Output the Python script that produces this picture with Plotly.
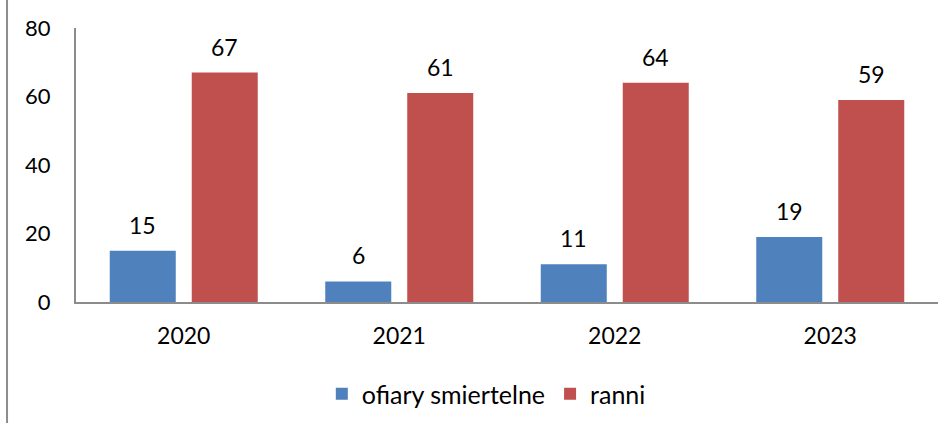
import plotly.graph_objects as go

years = ["2020", "2021", "2022", "2023"]
deaths = [15, 6, 11, 19]
injured = [67, 61, 64, 59]
series_names = ["ofiary smiertelne", "ranni"]
colors = ["#4F81BD", "#C0504D"]
y_ticks = [0, 20, 40, 60, 80]

FONT = "Lato"

fig = go.Figure()
for name, vals, col in zip(series_names, [deaths, injured], colors):
    fig.add_trace(go.Bar(x=years, y=vals, name=name, marker_color=col,
                         marker_line_width=0))

annos = []
for vals, shift in zip([deaths, injured], [-41, 41]):
    for i, v in enumerate(vals):
        annos.append(dict(x=i, y=v, xref="x", yref="y", text=str(v),
                          showarrow=False, xshift=shift, yshift=26,
                          yanchor="middle",
                          font=dict(family=FONT, size=23, color="black")))

fig.update_layout(
    width=952, height=426,
    margin=dict(l=76, r=14, t=28, b=124, autoexpand=False),
    paper_bgcolor="white", plot_bgcolor="white",
    barmode="group", bargap=0.239, bargroupgap=0.195,
    font=dict(family=FONT, size=23, color="black"),
    showlegend=True,
    legend=dict(orientation="h", x=0.476, xanchor="center", y=-0.336,
                yanchor="middle", font=dict(family=FONT, size=25, color="black"),
                bgcolor="rgba(0,0,0,0)"),
    annotations=annos,
    shapes=[dict(type="line", xref="paper", yref="paper",
                 x0=-0.080, x1=-0.080, y0=-0.4416, y1=1.102,
                 line=dict(color="#8C8C8C", width=2))],
)
fig.update_xaxes(type="category", range=[-0.5, 3.5], showline=True,
                 linecolor="#8C8C8C", linewidth=2,
                 showgrid=False, ticks="", ticklabelstandoff=12,
                 tickfont=dict(family=FONT, size=23, color="black"))
fig.update_yaxes(range=[0, 80], tickvals=y_ticks, showline=True,
                 linecolor="#8C8C8C", linewidth=2, showgrid=False,
                 zeroline=False, ticks="", ticklabelstandoff=19,
                 tickfont=dict(family=FONT, size=22, color="black"))

fig.write_html("out.html", config={"displayModeBar": False},
               post_script="document.body.style.margin='0';")
